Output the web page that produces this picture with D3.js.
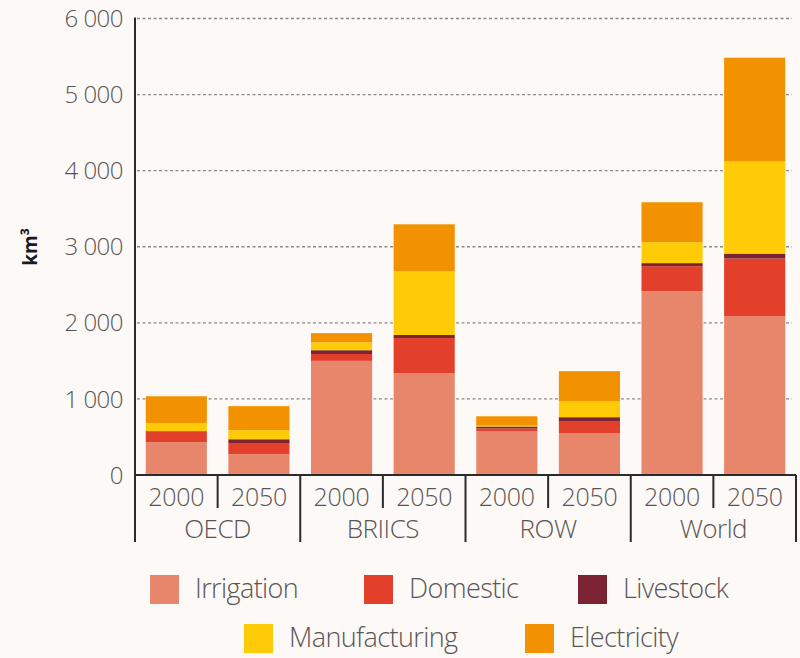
<!DOCTYPE html>
<html>
<head>
<meta charset="utf-8">
<script src="https://cdn.jsdelivr.net/npm/d3@7"></script>
<style>
  html, body { margin: 0; padding: 0; background: #fdf9f6; }
  svg { display: block; font-family: "Open Sans", "Noto Sans", sans-serif; }
</style>
</head>
<body>
<svg id="chart" width="800" height="658"></svg>
<script>
// Water demand by use, km³, per region and year
const groups = ["OECD", "BRIICS", "ROW", "World"];
const years = ["2000", "2050"];
const irrigation    = [430, 275, 1500, 1340, 577, 550, 2415, 2085];
const domestic      = [135, 145, 90, 460, 35, 160, 330, 760];
const livestock     = [10, 50, 50, 40, 25, 50, 40, 65];
const manufacturing = [105, 120, 105, 840, 10, 210, 275, 1210];
const electricity   = [355, 315, 120, 615, 125, 395, 525, 1365];
const seriesNames = ["Irrigation", "Domestic", "Livestock", "Manufacturing", "Electricity"];
const seriesColors = ["#e8866b", "#e2402b", "#7b2333", "#fecb06", "#f39200"];
const yTicks = [0, 1000, 2000, 3000, 4000, 5000, 6000];

const rows = [];
groups.forEach((g, gi) => years.forEach((yr, yi) => {
  const i = gi * 2 + yi;
  rows.push({
    group: g, year: yr,
    Irrigation: irrigation[i], Domestic: domestic[i], Livestock: livestock[i],
    Manufacturing: manufacturing[i], Electricity: electricity[i]
  });
}));

const svg = d3.select("#chart");
const x0 = 135, x1 = 796, yBase = 475, yTop = 18.5;
const textColor = "#5a5555";

const y = d3.scaleLinear().domain([0, 6000]).range([yBase, yTop]);
const xGroup = d3.scaleBand().domain(groups).range([x0, x1]).padding(0);
const xYear = d3.scaleBand().domain(years).range([0, xGroup.bandwidth()])
  .paddingInner(0.26).paddingOuter(0.13);

const color = d3.scaleOrdinal().domain(seriesNames).range(seriesColors);
const fmt = d3.formatLocale({ decimal: ".", thousands: " ", grouping: [3], currency: ["", ""] }).format(",");

// Dotted gridlines
svg.append("g")
  .selectAll("line")
  .data(yTicks.filter(d => d > 0))
  .join("line")
  .attr("x1", x0 + 2).attr("x2", 792)
  .attr("y1", d => y(d)).attr("y2", d => y(d))
  .attr("stroke", "#8f8989")
  .attr("stroke-width", 1.4)
  .attr("stroke-dasharray", "3,2.5");

// Stacked bars
const stack = d3.stack().keys(seriesNames);
const layers = stack(rows);
svg.append("g")
  .selectAll("g")
  .data(layers)
  .join("g")
  .attr("fill", d => color(d.key))
  .selectAll("rect")
  .data(d => d)
  .join("rect")
  .attr("x", d => xGroup(d.data.group) + xYear(d.data.year))
  .attr("width", xYear.bandwidth())
  .attr("y", d => y(d[1]))
  .attr("height", d => y(d[0]) - y(d[1]));

// Y axis tick labels
svg.append("g")
  .selectAll("text")
  .data(yTicks)
  .join("text")
  .attr("x", 123)
  .attr("y", d => y(d))
  .attr("dy", "0.36em")
  .attr("text-anchor", "end")
  .attr("fill", textColor)
  .attr("font-size", 24)
  .attr("font-weight", 300)
  .attr("letter-spacing", -0.5)
  .text(d => fmt(d));

// Y axis title
svg.append("text")
  .attr("transform", "translate(37,247) rotate(-90)")
  .attr("text-anchor", "middle")
  .attr("fill", "#1a1a1a")
  .attr("font-size", 19)
  .attr("font-weight", 700)
  .text("km³");

// Axis lines
const axisColor = "#2b2b2b";
svg.append("line")
  .attr("x1", x0).attr("x2", x0).attr("y1", yTop - 1).attr("y2", 542)
  .attr("stroke", axisColor).attr("stroke-width", 2);
svg.append("line")
  .attr("x1", x0).attr("x2", x1).attr("y1", yBase).attr("y2", yBase)
  .attr("stroke", axisColor).attr("stroke-width", 2);

// Dividers between years and between groups
svg.append("g")
  .selectAll("line")
  .data(groups)
  .join("line")
  .attr("x1", g => xGroup(g) + xGroup.bandwidth() / 2)
  .attr("x2", g => xGroup(g) + xGroup.bandwidth() / 2)
  .attr("y1", yBase).attr("y2", 508)
  .attr("stroke", axisColor).attr("stroke-width", 2);
svg.append("g")
  .selectAll("line")
  .data(groups)
  .join("line")
  .attr("x1", g => xGroup(g) + xGroup.bandwidth())
  .attr("x2", g => xGroup(g) + xGroup.bandwidth())
  .attr("y1", yBase).attr("y2", 542)
  .attr("stroke", axisColor).attr("stroke-width", 2);

// Year labels
svg.append("g")
  .selectAll("text")
  .data(rows)
  .join("text")
  .attr("x", d => xGroup(d.group) + xYear(d.year) + xYear.bandwidth() / 2)
  .attr("y", 506)
  .attr("text-anchor", "middle")
  .attr("fill", textColor)
  .attr("font-size", 25)
  .attr("font-weight", 300)
  .attr("letter-spacing", -0.3)
  .text(d => d.year);

// Group labels
svg.append("g")
  .selectAll("text")
  .data(groups)
  .join("text")
  .attr("x", g => xGroup(g) + xGroup.bandwidth() / 2)
  .attr("y", 538)
  .attr("text-anchor", "middle")
  .attr("fill", textColor)
  .attr("font-size", 26)
  .attr("font-weight", 300)
  .attr("letter-spacing", -0.5)
  .text(g => g);

// Legend
const legendItems = [
  { name: "Irrigation", x: 150, y: 575 },
  { name: "Domestic", x: 364, y: 575 },
  { name: "Livestock", x: 578, y: 575 },
  { name: "Manufacturing", x: 244, y: 624 },
  { name: "Electricity", x: 525, y: 624 }
];
const legend = svg.append("g")
  .selectAll("g")
  .data(legendItems)
  .join("g")
  .attr("transform", d => `translate(${d.x},${d.y})`);
legend.append("rect")
  .attr("width", 29).attr("height", 29)
  .attr("fill", d => color(d.name));
legend.append("text")
  .attr("x", 45).attr("y", 23)
  .attr("fill", textColor)
  .attr("font-size", 27)
  .attr("font-weight", 300)
  .attr("letter-spacing", -0.6)
  .text(d => d.name);
</script>
</body>
</html>
